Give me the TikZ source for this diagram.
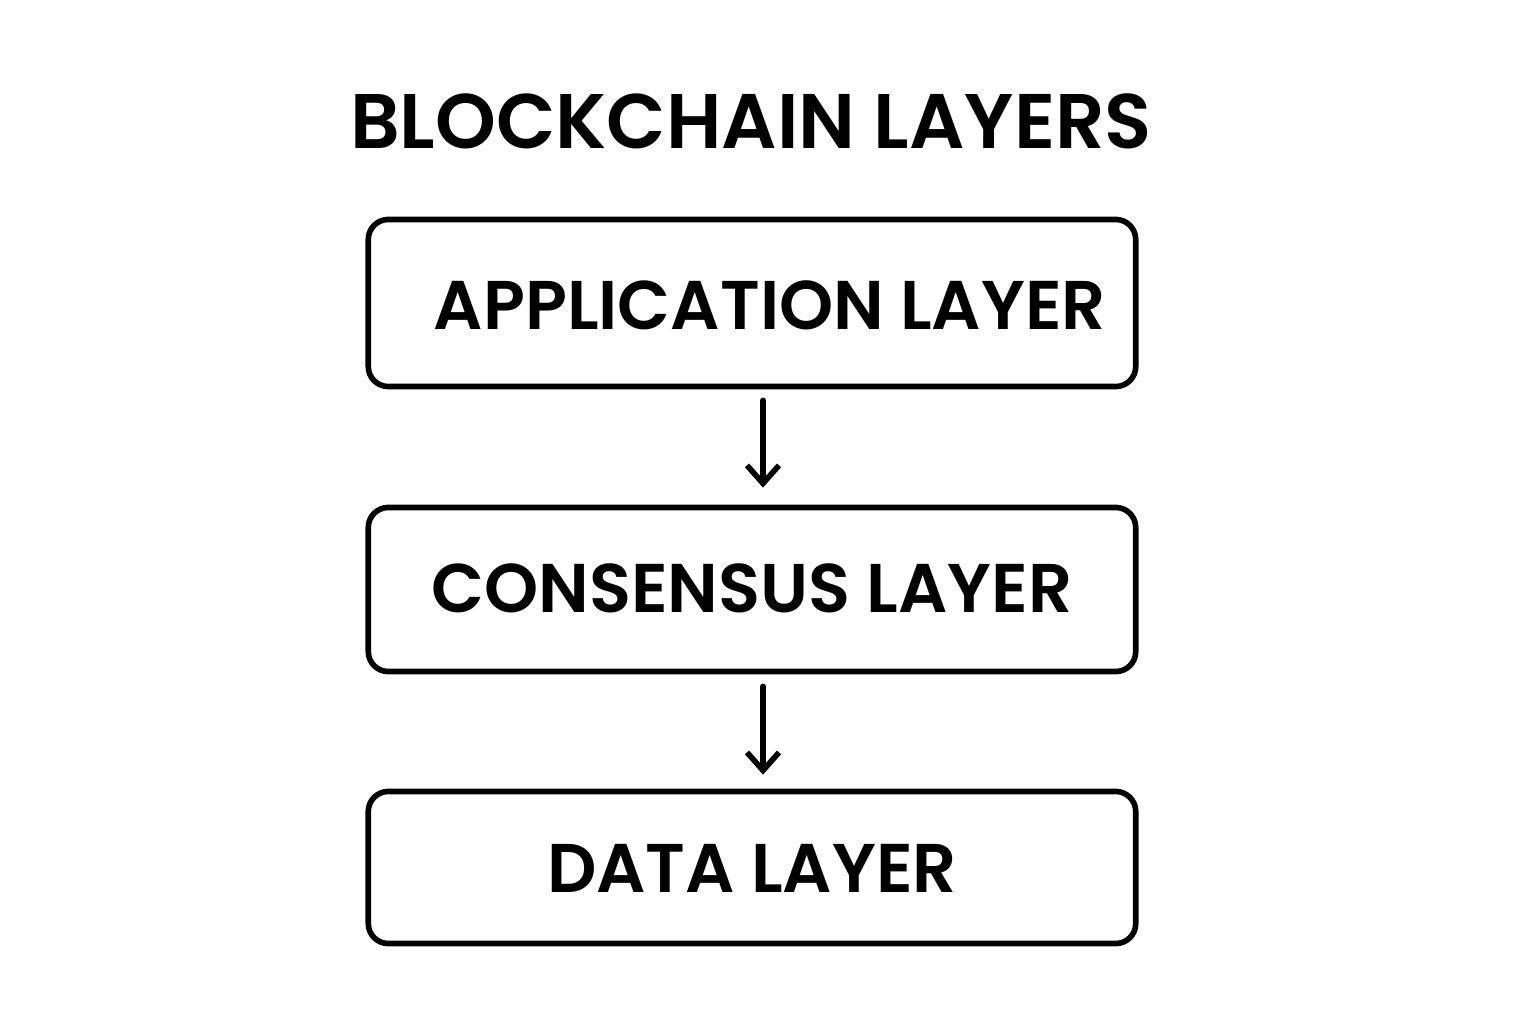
\documentclass[tikz,border=0pt]{standalone}
\usepackage{fontspec}
\setmainfont{Poppins}[BoldFont={Poppins SemiBold}]
\usetikzlibrary{arrows.meta}

\begin{document}
\begin{tikzpicture}[x=0.01cm,y=-0.01cm,
  >={Straight Barb[length=0.18cm,width=0.32cm]},line width=1.6pt,line cap=round,line join=round,
  layer box/.style={draw,rounded corners=0.2cm,minimum width=7.67cm,inner sep=0pt},
  layer text/.style={font=\fontsize{19.6}{24}\selectfont\bfseries,inner sep=0pt},
  title text/.style={font=\fontsize{22}{26}\selectfont\bfseries,inner sep=0pt}]

\useasboundingbox (0,0) rectangle (1536,1024);

\node[title text](title) at (751,121) {BLOCKCHAIN LAYERS};

\node[layer box,minimum height=1.67cm](app) at (752,303) {};
\node[layer box,minimum height=1.64cm](cons) at (752,589.5) {};
\node[layer box,minimum height=1.52cm](data) at (752,867.5) {};

\node[layer text](appt) at (770,305) {APPLICATION LAYER};
\node[layer text](const) at (752,588) {CONSENSUS LAYER};
\node[layer text](datat) at (752,868) {DATA LAYER};

\draw[->] ([xshift=0.11cm,yshift=-0.11cm]app.south) -- ([xshift=0.11cm,yshift=0.17cm]cons.north);
\draw[->] ([xshift=0.11cm,yshift=-0.12cm]cons.south) -- ([xshift=0.11cm,yshift=0.14cm]data.north);
\end{tikzpicture}
\end{document}
